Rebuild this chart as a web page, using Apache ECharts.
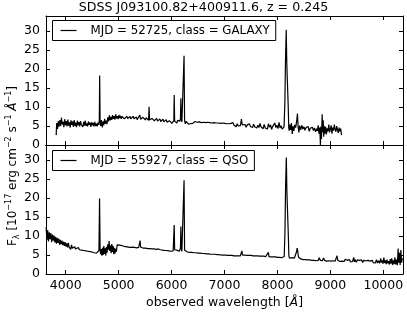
<!DOCTYPE html>
<html>
<head>
<meta charset="utf-8">
<script src="https://cdn.jsdelivr.net/npm/echarts@6/dist/echarts.min.js"></script>
<style>
html,body{margin:0;padding:0;background:#fff;}
#chart{width:407px;height:315px;}
</style>
</head>
<body>
<div id="chart"></div>
<script>
var titleText = 'SDSS J093100.82+400911.6, z = 0.245';
var galaxyName = 'MJD = 52725, class = GALAXY';
var qsoName = 'MJD = 55927, class = QSO';
var xTicks = [4000, 5000, 6000, 7000, 8000, 9000, 10000];
var yTicks = [0, 5, 10, 15, 20, 25, 30];
var xRange = [3628, 10372];
var yRange = [0, 34];

// [wavelength (Angstrom), flux]
var galaxySpectrum = [
[3820,2.6],[3830,5.8],[3845,4.2],[3860,6.3],[3875,4.8],[3890,6.6],[3905,5.0],[3920,7.2],[3935,5.4],[3950,6.1],
[3965,4.7],[3980,6.8],[3995,5.2],[4010,6.3],[4025,4.9],[4040,6.7],[4055,5.1],[4070,6.0],[4085,4.6],[4100,6.5],
[4115,5.3],[4130,6.2],[4145,4.8],[4160,6.6],[4175,5.0],[4190,5.9],[4205,4.7],[4220,6.4],[4235,5.2],[4250,6.0],
[4265,4.9],[4280,6.3],[4295,5.4],[4310,5.8],[4325,4.8],[4340,6.1],[4355,5.1],[4370,6.4],[4385,5.0],[4400,5.7],
[4415,4.9],[4430,6.2],[4445,5.3],[4460,5.9],[4475,4.8],[4490,6.0],[4505,5.2],[4520,5.8],[4535,4.9],[4550,6.1],
[4565,5.0],[4580,5.6],[4595,4.9],[4610,5.9],[4625,5.3],[4635,6.5],[4642,18.3],[4650,6.4],[4660,5.0],[4675,6.6],
[4690,4.6],[4705,6.2],[4720,5.2],[4735,6.9],[4750,5.6],[4765,6.4],[4780,5.5],[4795,7.3],[4810,6.2],[4825,7.8],
[4840,6.5],[4855,7.4],[4870,6.6],[4885,7.9],[4900,6.9],[4915,7.6],[4930,6.7],[4945,8.1],[4960,7.0],[4975,7.6],
[4990,6.8],[5005,7.9],[5020,7.1],[5035,7.7],[5050,6.9],[5065,7.5],[5080,7.0],[5095,7.8],[5110,6.9],[5125,7.4],
[5140,6.8],[5155,7.6],[5170,7.0],[5185,7.3],[5200,6.7],[5215,7.5],[5230,6.9],[5245,7.2],[5260,6.6],[5275,7.6],
[5290,6.9],[5305,7.3],[5320,6.8],[5335,7.4],[5350,6.7],[5365,7.1],[5380,6.9],[5400,7.9],[5415,6.8],[5430,7.2],
[5445,6.6],[5460,7.3],[5475,6.8],[5490,7.1],[5505,6.6],[5520,7.2],[5535,6.7],[5550,7.0],[5565,6.5],[5575,10.1],
[5585,6.6],[5600,7.1],[5615,6.5],[5630,7.0],[5645,6.6],[5660,7.2],[5675,6.4],[5690,6.9],[5705,6.5],[5720,7.0],
[5735,6.3],[5750,6.8],[5765,6.4],[5780,6.9],[5795,6.2],[5810,6.7],[5825,6.3],[5840,6.8],[5855,6.1],[5870,6.6],
[5885,6.2],[5900,6.7],[5915,6.0],[5930,6.5],[5945,5.8],[5960,6.4],[5975,5.9],[5990,6.3],[6005,5.7],[6020,6.2],
[6035,5.9],[6043,6.4],[6050,13.2],[6058,6.3],[6070,6.0],[6085,6.4],[6100,5.8],[6115,6.5],[6130,6.1],[6145,6.8],
[6160,6.3],[6168,7.0],[6176,12.3],[6184,6.8],[6195,6.1],[6210,6.2],[6225,6.6],[6236,23.5],[6246,6.4],[6260,5.6],
[6275,6.2],[6290,5.7],[6305,6.1],[6320,5.5],[6340,6.0],[6360,5.6],[6380,6.1],[6400,5.7],[6420,5.9],[6440,6.2],
[6460,5.8],[6480,6.0],[6500,5.6],[6520,6.1],[6540,5.7],[6560,5.9],[6580,5.6],[6600,6.0],[6620,5.8],[6640,5.9],
[6660,5.6],[6680,6.0],[6700,5.7],[6720,5.9],[6740,5.6],[6760,5.8],[6780,5.5],[6800,5.9],[6820,5.6],[6840,5.8],
[6860,5.5],[6880,5.8],[6900,5.5],[6920,5.7],[6940,5.4],[6960,5.8],[6980,5.5],[7000,5.7],[7020,5.4],[7040,5.6],
[7060,5.3],[7080,5.6],[7100,5.2],[7120,5.7],[7140,5.4],[7160,5.9],[7180,5.2],[7200,5.5],[7220,4.8],[7240,5.6],
[7260,5.0],[7280,5.5],[7300,5.1],[7320,6.8],[7335,5.3],[7350,5.7],[7370,4.9],[7390,5.4],[7410,4.7],[7430,5.3],
[7450,5.0],[7470,5.6],[7490,4.9],[7510,5.2],[7530,4.6],[7550,5.5],[7570,4.8],[7590,5.3],[7610,4.5],[7630,5.2],
[7650,4.6],[7670,5.7],[7690,4.8],[7710,5.1],[7730,4.3],[7750,5.4],[7770,4.5],[7790,5.0],[7810,4.2],[7830,5.6],
[7850,4.7],[7870,5.3],[7890,4.1],[7910,4.9],[7930,4.4],[7950,5.8],[7970,4.6],[7990,5.2],[8010,4.3],[8030,6.0],
[8050,4.5],[8070,5.1],[8090,4.2],[8110,4.6],[8125,4.8],[8140,11.0],[8152,22.0],[8166,30.4],[8176,22.0],[8186,17.5],
[8196,17.0],[8204,10.0],[8214,4.5],[8224,3.8],[8235,5.4],[8250,4.0],[8265,5.8],[8280,2.9],[8295,4.9],[8310,3.7],[8325,5.3],
[8345,4.6],[8365,6.5],[8378,8.3],[8390,5.0],[8405,3.3],[8420,5.1],[8440,4.0],[8460,5.2],[8480,4.2],[8500,4.8],
[8520,3.9],[8540,4.6],[8560,4.1],[8580,4.9],[8600,3.6],[8620,4.4],[8640,4.0],[8660,4.7],[8680,3.8],[8700,4.5],
[8720,3.5],[8740,4.3],[8755,3.7],[8770,5.2],[8785,3.0],[8800,4.6],[8812,0.0],[8822,4.9],[8832,1.6],[8845,8.1],
[8855,3.4],[8865,6.5],[8875,2.2],[8885,5.0],[8895,3.0],[8910,4.8],[8925,2.8],[8940,4.4],[8955,3.6],[8970,5.4],
[8985,3.3],[9000,4.2],[9015,5.2],[9030,3.0],[9045,4.6],[9060,3.8],[9075,5.4],[9090,4.1],[9105,3.5],[9120,5.0],
[9135,4.0],[9150,3.2],[9165,4.6],[9180,3.6],[9195,4.3],[9210,2.6]
];

// [wavelength (Angstrom), flux]
var qsoSpectrum = [
[3630,12.3],[3645,9.0],[3660,11.6],[3675,8.6],[3690,11.0],[3705,9.2],[3720,10.8],[3735,8.4],[3750,10.4],[3765,8.8],
[3780,10.1],[3795,8.3],[3810,9.8],[3825,8.0],[3840,9.5],[3855,8.2],[3870,9.3],[3885,7.7],[3900,9.0],[3915,7.9],
[3930,8.8],[3945,7.6],[3960,8.5],[3975,7.4],[3990,8.4],[4005,7.2],[4020,8.1],[4035,7.0],[4050,8.2],[4065,7.1],
[4080,7.6],[4095,6.5],[4110,7.7],[4125,6.8],[4140,7.3],[4155,6.6],[4170,7.2],[4185,6.6],[4200,7.0],[4220,6.5],
[4240,7.0],[4260,6.4],[4280,6.8],[4300,6.3],[4320,6.7],[4340,6.2],[4360,6.6],[4380,6.1],[4400,6.4],[4420,6.0],
[4440,6.3],[4460,5.9],[4480,6.2],[4500,5.8],[4520,6.1],[4540,5.6],[4560,6.0],[4580,5.5],[4600,5.9],[4615,5.4],
[4628,6.2],[4640,19.9],[4650,6.3],[4660,5.2],[4672,6.6],[4684,4.8],[4696,6.9],[4708,5.0],[4720,7.4],[4732,5.3],
[4745,6.8],[4757,4.9],[4770,7.2],[4782,5.6],[4795,7.8],[4808,6.4],[4820,8.7],[4832,6.1],[4845,7.5],[4858,5.5],
[4870,7.9],[4882,5.8],[4895,7.4],[4908,5.2],[4920,6.9],[4932,5.4],[4945,6.6],[4958,5.9],[4972,7.7],[4985,7.4],
[5000,8.0],[5020,7.6],[5040,7.9],[5060,7.5],[5080,7.7],[5100,7.3],[5120,7.6],[5140,7.2],[5160,7.5],[5180,7.1],
[5200,7.4],[5220,7.0],[5240,7.3],[5260,7.1],[5280,7.4],[5300,7.0],[5320,7.3],[5340,6.9],[5360,7.2],[5380,7.0],
[5395,7.3],[5405,8.8],[5415,7.1],[5430,6.9],[5450,7.2],[5470,6.8],[5490,7.1],[5510,6.8],[5530,7.2],[5550,6.7],
[5570,7.0],[5590,6.7],[5610,7.1],[5630,6.6],[5650,6.9],[5670,6.6],[5690,7.0],[5710,6.5],[5730,6.8],[5750,6.6],
[5770,6.9],[5790,6.4],[5810,6.8],[5830,6.3],[5850,6.6],[5870,6.2],[5890,6.5],[5910,6.2],[5930,6.4],[5950,6.1],
[5970,6.4],[5990,6.0],[6010,6.3],[6030,6.1],[6042,6.5],[6050,12.9],[6058,6.4],[6070,6.2],[6085,6.0],[6100,6.3],
[6115,5.9],[6130,6.2],[6145,6.0],[6160,6.4],[6168,6.8],[6176,12.5],[6184,6.6],[6195,6.0],[6210,6.1],[6225,6.5],
[6236,24.7],[6246,6.3],[6260,5.9],[6280,6.0],[6300,5.8],[6320,6.0],[6340,5.7],[6360,5.9],[6380,5.7],[6400,5.9],
[6420,5.6],[6440,5.8],[6460,5.6],[6480,5.8],[6500,5.5],[6520,5.7],[6540,5.5],[6560,5.7],[6580,5.4],[6600,5.6],
[6620,5.4],[6640,5.6],[6660,5.3],[6680,5.5],[6700,5.3],[6720,5.5],[6740,5.2],[6760,5.5],[6780,5.2],[6800,5.4],
[6820,5.2],[6840,5.4],[6860,5.1],[6880,5.3],[6900,5.1],[6920,5.3],[6940,5.0],[6960,5.3],[6980,5.0],[7000,5.2],
[7020,5.0],[7040,5.2],[7060,4.9],[7080,5.2],[7100,4.9],[7120,5.1],[7140,4.9],[7160,5.1],[7180,4.8],[7200,5.0],
[7220,4.8],[7240,5.1],[7260,4.8],[7280,5.0],[7300,4.8],[7315,5.2],[7328,6.1],[7340,5.0],[7360,4.8],[7380,5.0],
[7400,4.7],[7420,4.9],[7440,4.7],[7460,4.9],[7480,4.6],[7500,4.9],[7520,4.6],[7540,4.8],[7560,4.6],[7580,4.8],
[7600,4.5],[7620,4.8],[7640,4.5],[7660,4.7],[7680,4.5],[7700,4.7],[7720,4.4],[7740,4.7],[7760,4.4],[7780,4.6],
[7800,4.4],[7815,4.6],[7828,5.7],[7840,4.6],[7860,4.3],[7880,4.5],[7900,4.3],[7920,4.5],[7940,4.2],[7960,4.5],
[7980,4.2],[8000,4.4],[8020,4.1],[8040,4.4],[8060,4.1],[8080,4.3],[8100,4.0],[8115,4.3],[8128,4.6],[8142,11.0],
[8154,23.0],[8168,30.7],[8178,22.0],[8188,17.7],[8198,17.2],[8206,10.0],[8216,4.8],[8228,4.2],[8240,4.4],[8260,4.0],[8280,4.3],
[8300,4.0],[8320,4.2],[8340,4.6],[8360,5.8],[8372,6.8],[8384,6.0],[8396,4.5],[8410,4.0],[8430,4.2],[8450,3.9],
[8470,4.1],[8490,3.8],[8510,4.1],[8530,3.8],[8550,4.0],[8570,3.7],[8590,4.0],[8610,3.7],[8630,3.9],[8650,3.6],
[8670,3.9],[8690,3.6],[8710,3.9],[8730,3.5],[8750,4.0],[8770,3.6],[8790,4.3],[8810,3.6],[8830,4.0],[8850,3.5],
[8870,4.2],[8890,3.6],[8910,3.9],[8930,3.4],[8950,3.9],[8970,3.5],[8990,3.8],[9010,3.4],[9030,3.8],[9050,3.5],
[9070,3.7],[9090,3.4],[9110,3.9],[9125,4.8],[9140,3.6],[9160,3.8],[9180,3.3],[9200,3.8],[9220,3.4],[9240,3.7],
[9260,3.3],[9280,3.9],[9300,3.4],[9320,3.6],[9340,3.3],[9360,3.8],[9380,3.2],[9400,3.7],[9420,3.3],[9440,4.4],
[9455,3.2],[9470,3.8],[9490,3.1],[9510,3.7],[9530,3.2],[9550,3.6],[9570,3.1],[9590,3.7],[9610,3.0],[9630,3.6],
[9650,3.2],[9670,3.5],[9690,3.0],[9710,3.6],[9730,3.1],[9750,3.4],[9770,3.0],[9790,3.6],[9810,3.0],[9830,3.4],
[9850,2.9],[9870,3.8],[9890,2.9],[9910,3.5],[9930,2.8],[9950,4.1],[9965,3.0],[9980,3.6],[9995,2.7],[10010,4.3],
[10025,2.9],[10040,3.6],[10055,2.6],[10070,3.8],[10085,2.8],[10100,3.4],[10115,2.5],[10130,3.9],[10145,2.7],[10160,4.1],
[10175,2.4],[10190,3.6],[10205,2.6],[10220,4.4],[10235,2.5],[10250,3.8],[10265,2.3],[10280,6.7],[10292,3.0],[10305,5.6],
[10318,2.4],[10332,6.3],[10345,3.0],[10360,4.2]
];

var FONT = 'DejaVu Sans';
var chart = echarts.init(document.getElementById('chart'), null, {renderer: 'canvas'});

function xAx(gridIndex, position, showLabels) {
  return {
    type: 'value', gridIndex: gridIndex, position: position,
    min: xRange[0], max: xRange[1],
    axisLine: {show: true, onZero: false, lineStyle: {color: '#000', width: 1}},
    axisTick: {show: true, inside: true, length: 4, customValues: xTicks, lineStyle: {color: '#000'}},
    axisLabel: {show: showLabels, customValues: xTicks, margin: 5, color: '#000', fontFamily: FONT, fontSize: 12.5,
      formatter: function (v) { return String(v); }},
    splitLine: {show: false}
  };
}
function yAx(gridIndex, position, showLabels) {
  return {
    type: 'value', gridIndex: gridIndex, position: position,
    min: yRange[0], max: yRange[1],
    axisLine: {show: true, onZero: false, lineStyle: {color: '#000', width: 1}},
    axisTick: {show: true, inside: true, length: 4, customValues: yTicks, lineStyle: {color: '#000'}},
    axisLabel: {show: showLabels, customValues: yTicks, margin: 6, color: '#000', fontFamily: FONT, fontSize: 12.5,
      formatter: function (v) { return String(v); }},
    splitLine: {show: false}
  };
}
function legendFor(name, top) {
  return {
    data: [name], left: 52.5, top: top, orient: 'horizontal',
    icon: 'rect', itemWidth: 16, itemHeight: 1.2,
    padding: [4, 6, 4, 8],
    backgroundColor: '#fff', borderColor: '#000', borderWidth: 1, borderRadius: 0,
    textStyle: {color: '#000', fontFamily: FONT, fontSize: 11.8, padding: [0, 0, 0, 9]},
    selectedMode: false
  };
}

chart.setOption({
  animation: false,
  backgroundColor: '#fff',
  title: {
    text: titleText, left: 'center', top: 1, padding: 0,
    textStyle: {color: '#000', fontFamily: FONT, fontSize: 12.6, fontWeight: 'normal'}
  },
  grid: [
    {left: 46, top: 16, width: 357, height: 129},
    {left: 46, top: 145, width: 357, height: 129}
  ],
  xAxis: [xAx(0, 'bottom', false), xAx(0, 'top', false), xAx(1, 'bottom', true), xAx(1, 'top', false)],
  yAxis: [yAx(0, 'left', true), yAx(0, 'right', false), yAx(1, 'left', true), yAx(1, 'right', false)],
  legend: [legendFor(galaxyName, 20.5), legendFor(qsoName, 150.5)],
  series: [
    {name: galaxyName, type: 'line', xAxisIndex: 0, yAxisIndex: 0, data: galaxySpectrum,
     showSymbol: false, symbol: 'none', color: '#000', lineStyle: {color: '#000', width: 1.2}, sampling: null},
    {name: qsoName, type: 'line', xAxisIndex: 2, yAxisIndex: 2, data: qsoSpectrum,
     showSymbol: false, symbol: 'none', color: '#000', lineStyle: {color: '#000', width: 1.2}, sampling: null}
  ],
  graphic: [
    {
      type: 'text', x: 13, y: 166, rotation: Math.PI / 2,
      style: {
        text: '{n|F}{sub|λ}{n| [10}{sup|−17}{n| erg cm}{sup|−2}{n| s}{sup|−1}{i| Å}{sup|−1}{n|]}',
        align: 'center', verticalAlign: 'middle', fill: '#000',
        rich: {
          n: {fontFamily: FONT, fontSize: 12, lineHeight: 16, verticalAlign: 'middle', fill: '#000'},
          i: {fontFamily: FONT, fontSize: 12, fontStyle: 'italic', lineHeight: 16, verticalAlign: 'middle', fill: '#000'},
          sup: {fontFamily: FONT, fontSize: 8, lineHeight: 16, verticalAlign: 'top', fill: '#000'},
          sub: {fontFamily: FONT, fontSize: 8, lineHeight: 16, verticalAlign: 'bottom', fill: '#000'}
        }
      }
    },
    {
      type: 'text', x: 224.5, y: 303,
      style: {
        text: '{n|observed wavelength [}{i|Å}{n|]}',
        align: 'center', verticalAlign: 'middle', fill: '#000',
        rich: {
          n: {fontFamily: FONT, fontSize: 12.5, fill: '#000'},
          i: {fontFamily: FONT, fontSize: 12.5, fontStyle: 'italic', fill: '#000'}
        }
      }
    }
  ]
});
</script>
</body>
</html>
